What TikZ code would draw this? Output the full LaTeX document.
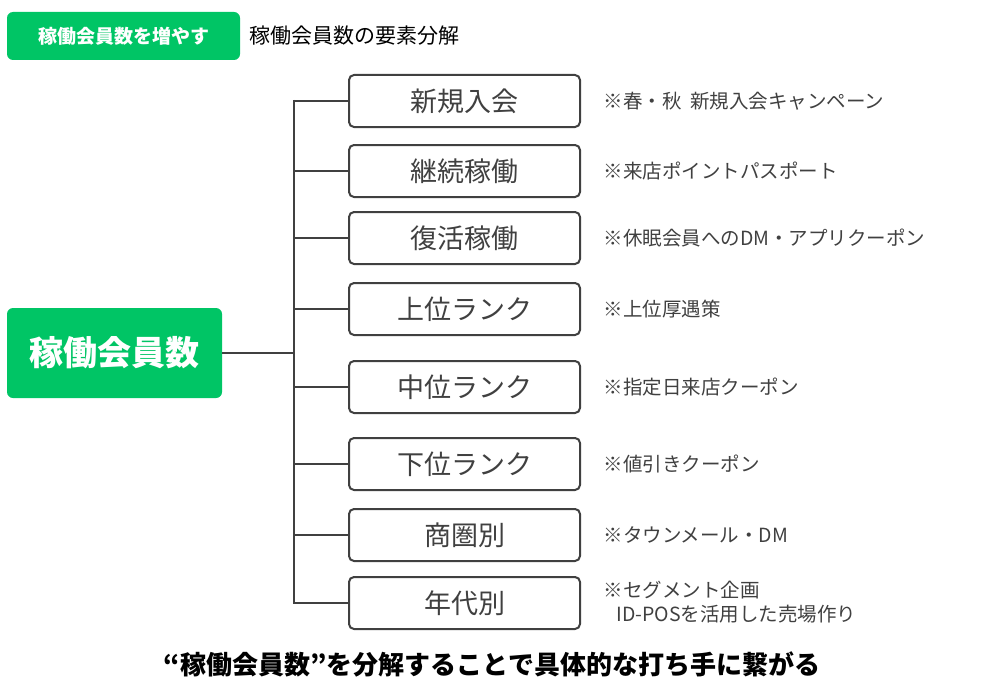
\documentclass[tikz,border=0pt]{standalone}
\usepackage{fontspec}
\setmainfont{Noto Sans CJK JP}
\definecolor{grn}{HTML}{00C565}
\definecolor{dg}{HTML}{404040}
\begin{document}
\begin{tikzpicture}[x=1pt,y=-1pt,
  gbox/.style={fill=grn,rounded corners=6pt,text=white,font=\bfseries},
  item/.style={draw=dg,line width=2pt,rounded corners=5pt,minimum width=231pt,minimum height=52pt,font=\fontsize{27}{29}\selectfont,text=dg},
  note/.style={anchor=west,font=\fontsize{19.5}{24}\selectfont,text=dg,align=left},
  ln/.style={draw=dg,line width=2pt}]
\useasboundingbox (0,0) rectangle (984,698);
\node[gbox,minimum width=233pt,minimum height=48pt,font=\bfseries\fontsize{19}{21}\selectfont] (hdr) at (123.5,36) {稼働会員数を増やす};
\node[anchor=west,font=\fontsize{21}{24}\selectfont,text=black] (ttl) at (246,36) {稼働会員数の要素分解};
\node[gbox,minimum width=215pt,minimum height=90pt,font=\bfseries\fontsize{34}{36}\selectfont] (root) at (114.5,353) {稼働会員数};
\coordinate (j) at (294,353);
\draw[ln] (root.east) -- (j);
\foreach \n/\y/\t/\a in {a/101/新規入会/※春・秋\ \ 新規入会キャンペーン,
  b/171/継続稼働/※来店ポイントパスポート,
  c/238/復活稼働/※休眠会員へのDM・アプリクーポン,
  d/309/上位ランク/※上位厚遇策,
  e/387/中位ランク/※指定日来店クーポン,
  f/464/下位ランク/※値引きクーポン,
  g/535/商圏別/※タウンメール・DM}{
  \node[item] (\n) at (464.5,\y) {\t};
  \node[note] (n\n) at (600,\y) {\a};
  \draw[ln] (\n.west) -- (294,\y);
}
\node[item] (h) at (464.5,603) {年代別};
\node[note] (nh) at (600,602) {※セグメント企画\\\ \ \ ID-POSを活用した売場作り};
\draw[ln] (h.west) -- (294,603);
\draw[ln] (294,100) -- (294,604);
\node[font=\bfseries\fontsize{26}{28}\selectfont] (btm) at (492,664) {“稼働会員数”を分解することで具体的な打ち手に繋がる};
\end{tikzpicture}
\end{document}
